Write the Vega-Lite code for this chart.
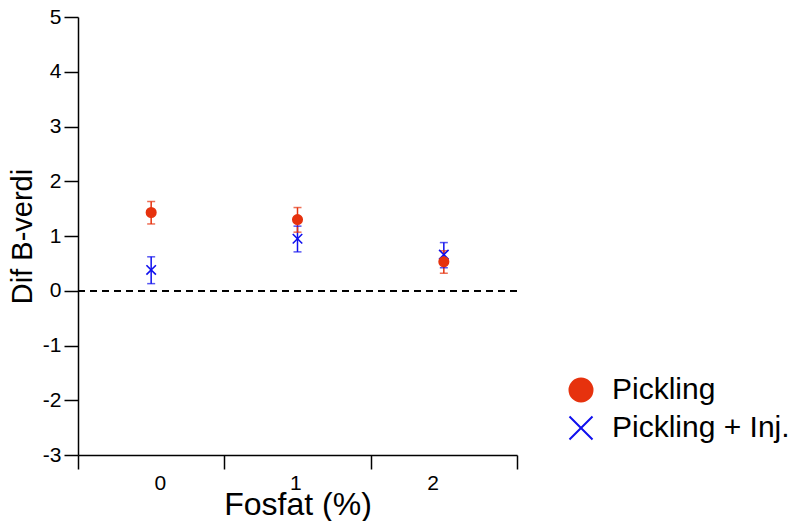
{
  "$schema": "https://vega.github.io/schema/vega-lite/v6.json",
  "width": 439,
  "height": 438,
  "autosize": {"type": "none"},
  "padding": {"left": 78, "top": 17, "right": 278, "bottom": 66},
  "background": "white",
  "config": {
    "view": {"stroke": null},
    "font": "Liberation Sans",
    "axis": {
      "grid": false,
      "domainColor": "black",
      "domainWidth": 1.5,
      "tickColor": "black",
      "tickWidth": 1.5,
      "labelColor": "black",
      "titleColor": "black",
      "labelFont": "Liberation Sans",
      "titleFont": "Liberation Sans",
      "titleFontWeight": "normal"
    }
  },
  "data": {
    "values": [
      {"fosfat": 0, "group": "Pickling + Inj.", "mean": 0.38, "lo": 0.13, "hi": 0.62},
      {"fosfat": 1, "group": "Pickling + Inj.", "mean": 0.95, "lo": 0.71, "hi": 1.18},
      {"fosfat": 2, "group": "Pickling + Inj.", "mean": 0.66, "lo": 0.42, "hi": 0.88},
      {"fosfat": 0, "group": "Pickling", "mean": 1.43, "lo": 1.22, "hi": 1.63},
      {"fosfat": 1, "group": "Pickling", "mean": 1.3, "lo": 1.07, "hi": 1.52},
      {"fosfat": 2, "group": "Pickling", "mean": 0.53, "lo": 0.32, "hi": 0.73}
    ]
  },
  "layer": [
    {
      "mark": {"type": "rule", "strokeDash": [7, 5], "color": "black", "strokeWidth": 1.5},
      "encoding": {
        "y": {"datum": 0, "type": "quantitative", "scale": {"domain": [-3, 5], "nice": false}, "title": "Dif B-verdi"}
      }
    },
    {
      "mark": {"type": "rule", "strokeWidth": 1.5},
      "encoding": {
        "x": {"field": "fosfat", "type": "quantitative", "scale": {"domain": [-0.5, 2.5], "nice": false, "zero": false}, "title": "Fosfat (%)"},
        "y": {"field": "lo", "type": "quantitative", "scale": {"domain": [-3, 5], "nice": false}, "title": "Dif B-verdi"},
        "y2": {"field": "hi"},
        "color": {"condition": {"test": "datum.group === 'Pickling'", "value": "#e6320e"}, "value": "#1010ee"}
      }
    },
    {
      "mark": {"type": "tick", "orient": "horizontal", "size": 8, "thickness": 1.5},
      "encoding": {
        "x": {"field": "fosfat", "type": "quantitative", "scale": {"domain": [-0.5, 2.5], "nice": false, "zero": false}, "title": "Fosfat (%)"},
        "y": {"field": "lo", "type": "quantitative", "scale": {"domain": [-3, 5], "nice": false}, "title": "Dif B-verdi"},
        "color": {"condition": {"test": "datum.group === 'Pickling'", "value": "#e6320e"}, "value": "#1010ee"}
      }
    },
    {
      "mark": {"type": "tick", "orient": "horizontal", "size": 8, "thickness": 1.5},
      "encoding": {
        "x": {"field": "fosfat", "type": "quantitative", "scale": {"domain": [-0.5, 2.5], "nice": false, "zero": false}, "title": "Fosfat (%)"},
        "y": {"field": "hi", "type": "quantitative", "scale": {"domain": [-3, 5], "nice": false}, "title": "Dif B-verdi"},
        "color": {"condition": {"test": "datum.group === 'Pickling'", "value": "#e6320e"}, "value": "#1010ee"}
      }
    },
    {
      "mark": {"type": "point", "size": 90, "strokeWidth": 1.6, "opacity": 1},
      "encoding": {
        "x": {
          "field": "fosfat", "type": "quantitative",
          "scale": {"domain": [-0.5, 2.5], "nice": false, "zero": false},
          "title": "Fosfat (%)",
          "axis": {
            "values": [-0.5, 0.5, 1.5, 2.5],
            "labelExpr": "datum.value < 0 ? '0' : datum.value < 1 ? '1' : datum.value < 2 ? '2' : ''",
            "labelOffset": {"expr": "datum.value < 0 ? 76 : datum.value < 1 ? 71 : 62"},
            "labelFontSize": 21,
            "tickSize": 14,
            "labelPadding": 3,
            "titleFontSize": 32,
            "titlePadding": -4
          }
        },
        "y": {
          "field": "mean", "type": "quantitative",
          "scale": {"domain": [-3, 5], "nice": false},
          "title": "Dif B-verdi",
          "axis": {
            "values": [-3, -2, -1, 0, 1, 2, 3, 4, 5],
            "labelExpr": "replace(datum.label, '\u2212', '-')",
            "labelFontSize": 21,
            "tickSize": 14,
            "labelPadding": 3,
            "titleFontSize": 29,
            "titlePadding": 5
          }
        },
        "shape": {"field": "group", "type": "nominal", "scale": {"domain": ["Pickling", "Pickling + Inj."], "range": ["circle", "M-1,-1L1,1M-1,1L1,-1"]}, "title": null,
          "legend": {"orient": "none", "legendX": 488, "legendY": 358, "labelFontSize": 30, "labelLimit": 400, "labelColor": "black", "labelFont": "Liberation Sans", "symbolSize": 530, "symbolStrokeWidth": 2, "rowPadding": 6, "labelOffset": 16}},
        "fill": {"field": "group", "type": "nominal", "scale": {"domain": ["Pickling", "Pickling + Inj."], "range": ["#e6320e", "transparent"]}, "title": null,
          "legend": {"orient": "none", "legendX": 488, "legendY": 358, "labelFontSize": 30, "labelLimit": 400, "labelColor": "black", "labelFont": "Liberation Sans", "symbolSize": 530, "symbolStrokeWidth": 2, "rowPadding": 6, "labelOffset": 16}},
        "stroke": {"field": "group", "type": "nominal", "scale": {"domain": ["Pickling", "Pickling + Inj."], "range": ["#e6320e", "#1010ee"]}, "title": null,
          "legend": {"orient": "none", "legendX": 488, "legendY": 358, "labelFontSize": 30, "labelLimit": 400, "labelColor": "black", "labelFont": "Liberation Sans", "symbolSize": 530, "symbolStrokeWidth": 2, "rowPadding": 6, "labelOffset": 16}}
      }
    }
  ]
}
